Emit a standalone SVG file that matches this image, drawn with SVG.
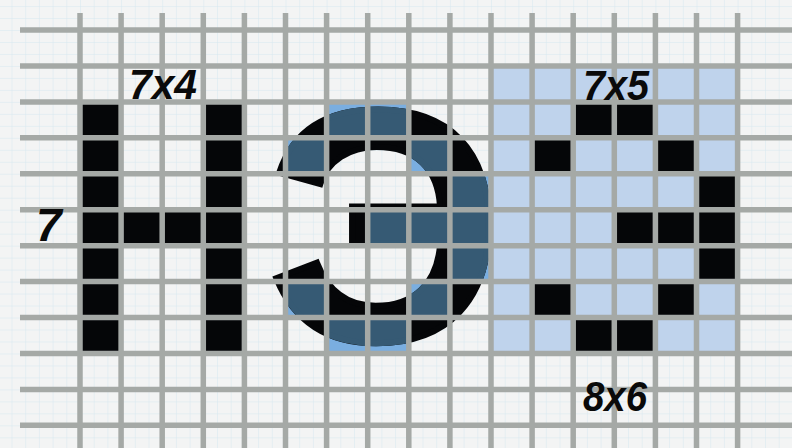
<svg xmlns="http://www.w3.org/2000/svg" xmlns:xlink="http://www.w3.org/1999/xlink" width="792" height="448" viewBox="0 0 792 448">
  <style>
    .blk { fill: #050608; }
    .ltb { fill: #7aaee0; }
    .grid { stroke: #a5a9a6; stroke-width: 5.5; fill: none; }
    .lbl { font-family: "Liberation Sans", Arial, sans-serif; font-weight: bold; font-style: italic; fill: #0a0a0a; }
    .big { font-family: "Liberation Sans", Arial, sans-serif; font-weight: bold; font-size: 330px; stroke-width: 6; stroke-linejoin: miter; }
  </style>
  <defs>
    <pattern id="fine" patternUnits="userSpaceOnUse" x="80" y="30" width="13.7" height="11.98">
      <path d="M0 0 H13.7 M0 0 V11.98" stroke="#d6e7ef" stroke-width="1" fill="none"/>
    </pattern>
    <rect id="c" width="41.1" height="35.94"/>
    <clipPath id="blueCells">
      <rect x="326.6" y="101.88" width="82.2" height="35.94"/>
      <rect x="285.5" y="137.82" width="41.1" height="35.94"/>
      <rect x="408.8" y="137.82" width="41.1" height="35.94"/>
      <rect x="449.9" y="173.76" width="41.1" height="35.94"/>
      <rect x="367.7" y="209.7" width="123.3" height="35.94"/>
      <rect x="449.9" y="245.64" width="41.1" height="35.94"/>
      <rect x="285.5" y="281.58" width="41.1" height="35.94"/>
      <rect x="408.8" y="281.58" width="41.1" height="35.94"/>
      <rect x="326.6" y="317.52" width="82.2" height="35.94"/>
    </clipPath>
  </defs>

  <g id="paper">
    <rect width="792" height="448" fill="#f3f4f4"/>
    <rect width="792" height="448" fill="url(#fine)"/>
  </g>

  <g id="right-area">
    <rect x="491" y="65.94" width="246.6" height="287.52" fill="#bfd3ec"/>
  </g>

  <g id="middle-letter">
    <g class="ltb">
      <use xlink:href="#c" x="326.6" y="101.88"/><use xlink:href="#c" x="367.7" y="101.88"/>
      <use xlink:href="#c" x="285.5" y="137.82"/><use xlink:href="#c" x="408.8" y="137.82"/>
      <use xlink:href="#c" x="449.9" y="173.76"/>
      <use xlink:href="#c" x="367.7" y="209.7"/><use xlink:href="#c" x="408.8" y="209.7"/><use xlink:href="#c" x="449.9" y="209.7"/>
      <use xlink:href="#c" x="449.9" y="245.64"/>
      <use xlink:href="#c" x="285.5" y="281.58"/><use xlink:href="#c" x="408.8" y="281.58"/>
      <use xlink:href="#c" x="326.6" y="317.52"/><use xlink:href="#c" x="367.7" y="317.52"/>
    </g>
    <text class="big" x="385" y="340" text-anchor="middle" fill="#050608" stroke="#050608">Э</text>
    <text class="big" x="385" y="340" text-anchor="middle" fill="#365a74" stroke="#365a74" clip-path="url(#blueCells)">Э</text>
  </g>

  <g id="letter-H" class="blk">
    <use xlink:href="#c" x="80" y="101.88"/><use xlink:href="#c" x="80" y="137.82"/><use xlink:href="#c" x="80" y="173.76"/><use xlink:href="#c" x="80" y="209.7"/><use xlink:href="#c" x="80" y="245.64"/><use xlink:href="#c" x="80" y="281.58"/><use xlink:href="#c" x="80" y="317.52"/>
    <use xlink:href="#c" x="203.3" y="101.88"/><use xlink:href="#c" x="203.3" y="137.82"/><use xlink:href="#c" x="203.3" y="173.76"/><use xlink:href="#c" x="203.3" y="209.7"/><use xlink:href="#c" x="203.3" y="245.64"/><use xlink:href="#c" x="203.3" y="281.58"/><use xlink:href="#c" x="203.3" y="317.52"/>
    <use xlink:href="#c" x="121.1" y="209.7"/><use xlink:href="#c" x="162.2" y="209.7"/>
  </g>

  <g id="letter-E-pixels" class="blk">
    <use xlink:href="#c" x="573.2" y="101.88"/><use xlink:href="#c" x="614.3" y="101.88"/>
    <use xlink:href="#c" x="532.1" y="137.82"/><use xlink:href="#c" x="655.4" y="137.82"/>
    <use xlink:href="#c" x="696.5" y="173.76"/>
    <use xlink:href="#c" x="614.3" y="209.7"/><use xlink:href="#c" x="655.4" y="209.7"/><use xlink:href="#c" x="696.5" y="209.7"/>
    <use xlink:href="#c" x="696.5" y="245.64"/>
    <use xlink:href="#c" x="532.1" y="281.58"/><use xlink:href="#c" x="655.4" y="281.58"/>
    <use xlink:href="#c" x="573.2" y="317.52"/><use xlink:href="#c" x="614.3" y="317.52"/>
  </g>

  <g id="grid" class="grid">
    <path d="M20 30H792 M20 65.94H792 M20 101.88H792 M20 137.82H792 M20 173.76H792 M20 209.7H792 M20 245.64H792 M20 281.58H792 M20 317.52H792 M20 353.46H792 M20 389.4H792 M20 425.34H792"/>
    <path d="M80 13V448 M121.1 13V448 M162.2 13V448 M203.3 13V448 M244.4 13V448 M285.5 13V448 M326.6 13V448 M367.7 13V448 M408.8 13V448 M449.9 13V448 M491 13V448 M532.1 13V448 M573.2 13V448 M614.3 13V448 M655.4 13V448 M696.5 13V448 M737.6 13V448"/>
  </g>

  <g id="labels" class="lbl">
    <text x="129" y="99" font-size="42" textLength="68" lengthAdjust="spacingAndGlyphs">7x4</text>
    <text x="36" y="241" font-size="46">7</text>
    <text x="583" y="100" font-size="42" textLength="66" lengthAdjust="spacingAndGlyphs">7x5</text>
    <text x="583" y="411" font-size="42" textLength="64" lengthAdjust="spacingAndGlyphs">8x6</text>
  </g>
</svg>
